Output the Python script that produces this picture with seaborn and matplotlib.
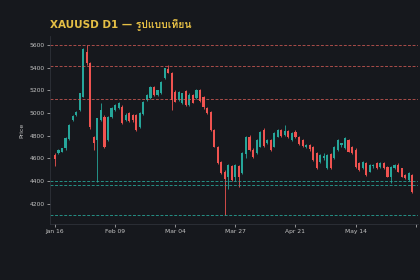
import numpy as np
import pandas as pd
import matplotlib; matplotlib.use("Agg")
import matplotlib.pyplot as plt
from matplotlib import font_manager
from matplotlib.ft2font import FT2Font
import seaborn as sns

# ---- data ----
opens  = [4632,4647,4661,4690,4770,4940,4984,5028,5145,5540,5440,4793,4764,4940,4969,4764,4969,
          5030,5043,5057,4940,5000,4984,4984,4880,4990,5116,5131,5233,5160,5175,5307,5390,5351,
          5189,5116,5087,5190,5070,5160,5131,5204,5140,5045,5013,4852,4705,4573,4485,4441,4530,
          4441,4530,4471,4640,4793,4676,4647,4705,4852,4740,4764,4705,4793,4852,4810,4840,4764,
          4837,4793,4764,4705,4720,4705,4647,4573,4600,4515,4640,4603,4676,4720,4691,4764,4705,
          4676,4559,4515,4559,4485,4530,4559,4529,4559,4529,4441,4515,4544,4515,4456,4412,4456]
highs  = [4647,4680,4695,4785,4900,4985,5020,5180,5575,5598,5450,4800,4960,5087,4980,4975,5050,
          5080,5095,5070,5000,5010,4995,4990,5005,5105,5165,5240,5240,5205,5280,5400,5424,5360,
          5200,5195,5180,5200,5175,5170,5210,5210,5150,5050,5020,4860,4710,4580,4495,4550,4545,
          4550,4540,4655,4800,4810,4690,4770,4845,4870,4770,4775,4830,4860,4860,4896,4850,4830,
          4850,4800,4775,4730,4730,4710,4655,4640,4650,4640,4650,4710,4770,4740,4785,4770,4710,
          4690,4570,4580,4565,4550,4550,4570,4565,4570,4535,4535,4550,4560,4520,4465,4480,4465]
lows   = [4530,4640,4655,4676,4760,4930,4975,5020,5140,5420,4860,4676,4397,4930,4690,4750,4960,
          5020,5035,4900,4930,4920,4925,4840,4870,4980,5110,5125,5150,5150,5170,5300,5350,5028,
          5095,5110,5080,5060,5060,5085,5125,5100,5040,4990,4845,4700,4550,4460,4098,4330,4405,
          4400,4350,4460,4600,4670,4600,4640,4700,4705,4730,4670,4700,4790,4790,4800,4780,4755,
          4780,4715,4700,4695,4670,4580,4505,4560,4590,4505,4510,4595,4670,4700,4685,4655,4640,
          4520,4490,4505,4445,4480,4520,4510,4520,4510,4435,4383,4510,4480,4435,4415,4405,4300]
closes = [4594,4676,4691,4779,4896,4975,5013,5175,5565,5440,4881,4735,4955,5028,4705,4969,5043,
          5072,5087,4911,4985,4930,4940,4852,5000,5101,5160,5233,5160,5200,5277,5395,5355,5116,
          5101,5189,5175,5070,5160,5090,5204,5110,5050,5000,4852,4705,4559,4471,4420,4544,4412,
          4540,4440,4647,4793,4676,4610,4764,4837,4710,4764,4676,4823,4852,4800,4840,4790,4823,
          4793,4725,4710,4720,4680,4590,4515,4632,4620,4632,4515,4705,4764,4735,4779,4661,4647,
          4529,4500,4573,4456,4544,4544,4515,4559,4515,4441,4529,4544,4485,4441,4427,4471,4309]
tick_pos    = [0, 17, 34, 51, 68, 85, 102]
tick_labels = ["Jan 16", "Feb 09", "Mar 04", "Mar 27", "Apr 21", "May 14", ""]
resistance  = [5597, 5418, 5125]
support     = [4400, 4365, 4098]

df = pd.DataFrame({"open": opens, "high": highs, "low": lows, "close": closes})
df["i"] = np.arange(len(df))
df["up"] = df.close >= df.open

BG = "#16181d"; UP = "#26a69a"; DN = "#ef5350"; GOLD = "#e5bf45"; TXT = "#c4c4c4"

sns.set_theme(style="dark", rc={"figure.facecolor": BG, "axes.facecolor": BG,
                                "axes.edgecolor": "#34373f", "axes.grid": False})

# find a font that actually has Thai glyphs
thai = []
for f in font_manager.fontManager.ttflist:
    try:
        if 0x0E23 in FT2Font(f.fname).get_charmap():
            thai.append(f.name)
    except Exception:
        pass
fams = ["DejaVu Sans"] + list(dict.fromkeys(thai))
plt.rcParams["font.family"] = fams

fig = plt.figure(figsize=(4.2, 2.8), dpi=100)
ax = fig.add_axes([0.119, 0.2, 0.876, 0.67])

col = np.where(df.up, UP, DN)
ax.vlines(df.i, df.low, df.high, colors=col, lw=0.6)
ax.bar(df.i, (df.close - df.open).abs().clip(lower=4), bottom=df[["open", "close"]].min(axis=1),
       width=0.6, color=col, linewidth=0)

for r in resistance:
    ax.axhline(r, color="#e0605a", ls=(0, (3.5, 2)), lw=0.6, alpha=0.85)
for s in support:
    ax.axhline(s, color="#2bb3a3", ls=(0, (3.5, 2)), lw=0.6, alpha=0.9)

ax.set_xlim(-1.4, 102.6); ax.set_ylim(4023, 5675)
ax.set_xticks(tick_pos); ax.set_xticklabels(tick_labels)
ax.set_yticks(range(4200, 5601, 200))
ax.tick_params(colors=TXT, labelsize=4.3, length=2, width=0.5, pad=1.5, bottom=True, left=True)
ax.set_ylabel("Price", color=TXT, fontsize=4.5, labelpad=4)
ax.set_xlabel("")
sns.despine(ax=ax)
for s in ["left", "bottom"]:
    ax.spines[s].set_linewidth(0.5)
ax.set_title("XAUUSD D1 — รูปแบบเทียน", loc="left", color=GOLD, fontsize=7.5,
             fontweight="bold", pad=6)

fig.savefig("out.png", dpi=100, facecolor=BG)
